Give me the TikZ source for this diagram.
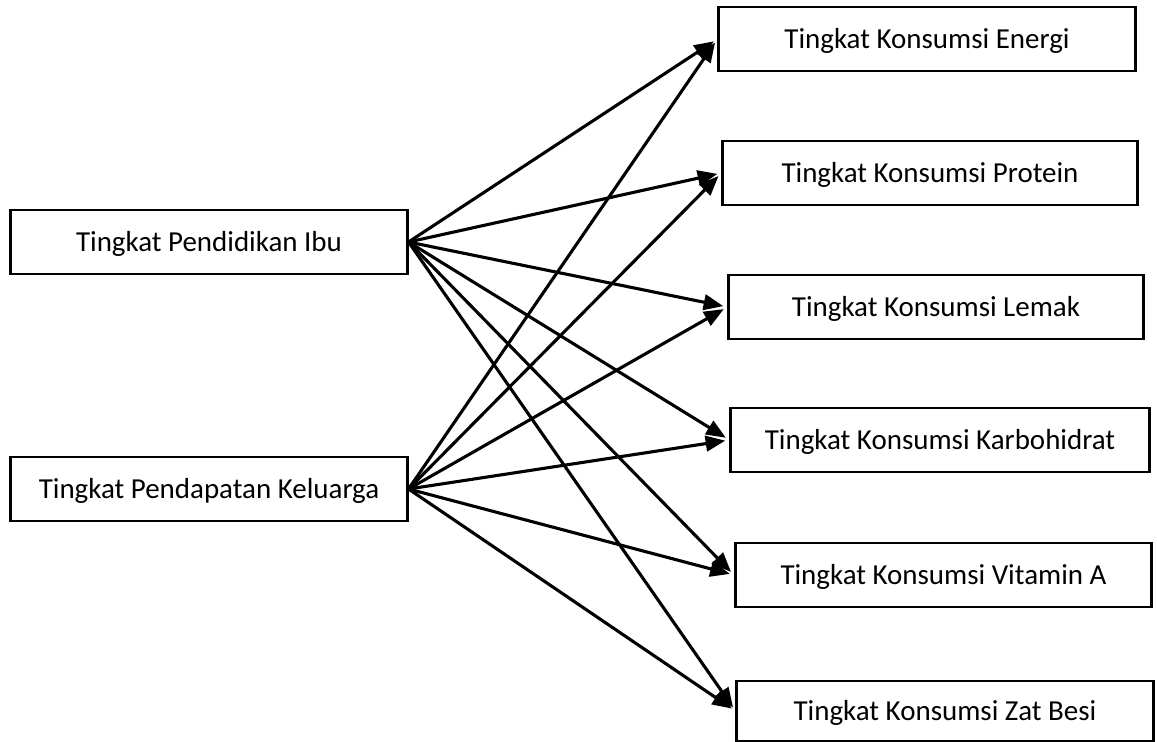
\documentclass[tikz,border=0pt]{standalone}
\usepackage{fontspec}
\setmainfont{Carlito}
\usetikzlibrary{arrows.meta}

\begin{document}
\begin{tikzpicture}[x=0.025cm, y=-0.025cm, every node/.style={rectangle,draw,line width=2.1pt,minimum height=1.6cm,inner sep=0pt,text height=13pt,text depth=0pt,font=\fontsize{20.6}{24}\selectfont}, line width=2.2pt, >={Triangle[length=14pt,width=11pt]}]
    \useasboundingbox (0,0) rectangle (1157,742);

    \node[minimum width=9.9cm] (A) at (209,242) {Tingkat Pendidikan Ibu};
    \node[minimum width=9.9cm] (B) at (209,489) {Tingkat Pendapatan Keluarga};

    \node[minimum width=10.4cm] (C) at (927,39) {Tingkat Konsumsi Energi};
    \node[minimum width=10.35cm] (D) at (930,173) {Tingkat Konsumsi Protein};
    \node[minimum width=10.35cm] (E) at (936,307) {Tingkat Konsumsi Lemak};
    \node[minimum width=10.45cm] (F) at (940,440) {Tingkat Konsumsi Karbohidrat};
    \node[minimum width=10.4cm] (G) at (943.5,575) {Tingkat Konsumsi Vitamin A};
    \node[minimum width=10.4cm, minimum height=1.5cm] (H) at (945,711) {Tingkat Konsumsi Zat Besi};

    \draw[->, shorten >=3pt] (A.east) -- (C.west);
    \draw[->, shorten >=3pt] (A.east) -- (D.west);
    \draw[->, shorten >=3pt] (A.east) -- (E.west);
    \draw[->, shorten >=3pt] (A.east) -- (F.west);
    \draw[->, shorten >=3pt] (A.east) -- (G.west);
    \draw[->, shorten >=3pt] (A.east) -- (H.west);

    \draw[->, shorten >=3pt] (B.east) -- (C.west);
    \draw[->, shorten >=3pt] (B.east) -- (D.west);
    \draw[->, shorten >=3pt] (B.east) -- (E.west);
    \draw[->, shorten >=3pt] (B.east) -- (F.west);
    \draw[->, shorten >=3pt] (B.east) -- (G.west);
    \draw[->, shorten >=3pt] (B.east) -- (H.west);
\end{tikzpicture}
\end{document}
